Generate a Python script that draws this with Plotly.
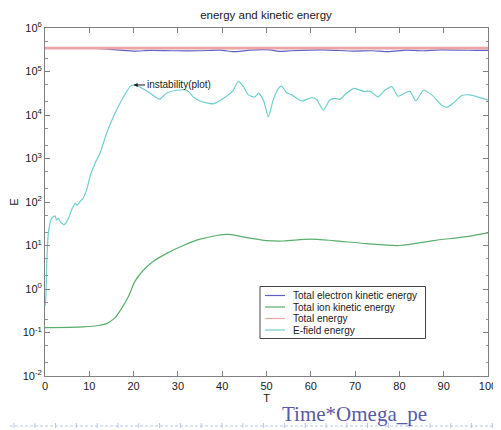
import plotly.graph_objects as go

# ---------------- data ----------------
t_field = [0, 0.2, 0.4, 0.75, 1.5, 2.25, 2.6, 3.0, 3.5, 4.3, 5.3, 6.0, 6.8, 7.3, 7.9, 8.6, 9.4,
           10.2, 11.3, 12.4, 13.9, 15.8, 17.7, 19.2, 19.9, 21.4, 23.7, 25.8, 27.5, 29.7, 32.0,
           33.5, 35.0, 38.0, 40.2, 42.5, 43.6, 44.8, 45.9, 47.4, 48.2, 49.3, 50.4, 51.5, 52.7,
           53.4, 54.5, 55.7, 57.9, 60.2, 61.3, 62.8, 64.3, 65.5, 66.6, 68.1, 69.8, 71.9, 73.4,
           75.2, 76.7, 78.3, 79.7, 81.3, 82.4, 83.7, 85.4, 87.3, 89.5, 90.7, 92.2, 94.1, 95.9,
           98.2, 100]
e_field = [0.4, 0.7, 3.9, 19, 42, 48, 39, 42, 35, 30, 42, 66, 93, 85, 102, 122, 190,
           400, 780, 1300, 3800, 11000, 26000, 45000, 49000, 44000, 32000, 23000, 32000, 37000, 37000,
           26000, 21000, 18000, 24000, 37000, 59000, 45000, 29000, 26000, 32000, 22000, 9100, 22000, 41000,
           46000, 33000, 29000, 21000, 25000, 23000, 13000, 22000, 24000, 23000, 32000, 41000, 35000, 35000,
           26000, 37000, 45000, 27000, 32000, 35000, 21000, 37000, 29000, 17000, 15000, 19000, 28000, 29000,
           25000, 22000]

t_ion = [0, 8.6, 12.4, 13.9, 15.8, 17.3, 18.8, 20.3, 22.2, 24.4, 27.5, 31.2, 35.0, 38.8, 41.4,
         45.9, 50.0, 53.8, 59.8, 65.0, 72.6, 80.1, 87.7, 95.2, 100]
e_ion = [0.13, 0.135, 0.147, 0.16, 0.22, 0.36, 0.66, 1.5, 2.7, 4.3, 6.6, 10, 14, 17, 18,
         15, 13, 12.7, 14, 13, 11, 10, 13, 16, 19.5]

t_elec = [0, 10, 13.5, 17, 20.3, 23.7, 29, 35, 39.5, 42.5, 44, 46.3, 50.8, 52.7, 55.5, 62.8,
          69.6, 74, 77.5, 81.6, 85, 89.2, 98, 100]
e_elec = [3.45e5, 3.45e5, 3.3e5, 3.1e5, 2.95e5, 3.05e5, 3.0e5, 3.0e5, 3.1e5, 2.85e5, 2.9e5, 3.1e5,
          3.15e5, 2.9e5, 3.0e5, 3.15e5, 2.95e5, 3.0e5, 2.85e5, 3.1e5, 3.0e5, 3.15e5, 3.05e5, 3.05e5]

t_total = [0, 100]
e_total = [3.45e5, 3.45e5]

series_names = ["Total electron kinetic energy", "Total ion kinetic energy",
                "Total energy", "E-field energy"]
series_colors = ["#6060c8", "#5aae6c", "#eaa4a4", "#70cece"]
x_ticks = [0, 10, 20, 30, 40, 50, 60, 70, 80, 90, 100]
y_tick_exps = [-2, -1, 0, 1, 2, 3, 4, 5, 6]

# ---------------- layout helpers ----------------
# the page body has an 8px margin, so the figure is sized to the visible area
OFF = 8
W, H = 501 - OFF, 430 - OFF
ML, MT = 45 - OFF, 28 - OFF          # plot left/top in page px: 45, 28
MR, MB = W - (488 - OFF), H - (376 - OFF)   # plot right/bottom in page px: 488, 376
PW, PH = W - ML - MR, H - MT - MB


def px(x):
    """page pixel x -> paper x"""
    return (x - OFF - ML) / PW


def py(y):
    """page pixel y -> paper y"""
    return (H - MB - (y - OFF)) / PH


FONT = "Arial, Liberation Sans, sans-serif"
TXT = "#1a1a1a"

fig = go.Figure()
fig.add_trace(go.Scatter(x=t_field, y=e_field, mode="lines", name=series_names[3],
                         line=dict(color=series_colors[3], width=1.2, shape="spline", smoothing=0.6)))
fig.add_trace(go.Scatter(x=t_ion, y=e_ion, mode="lines", name=series_names[1],
                         line=dict(color=series_colors[1], width=1.2, shape="spline", smoothing=0.8)))
fig.add_trace(go.Scatter(x=t_elec, y=e_elec, mode="lines", name=series_names[0],
                         line=dict(color=series_colors[0], width=1.2, shape="spline", smoothing=0.6)))
fig.add_trace(go.Scatter(x=t_total, y=e_total, mode="lines", name=series_names[2],
                         line=dict(color=series_colors[2], width=2.6)))

axis_common = dict(showline=True, linecolor="#808080", linewidth=1, mirror="ticks",
                   ticks="inside", ticklen=5, tickcolor="#808080", showgrid=False,
                   zeroline=False, automargin=False,
                   tickfont=dict(family=FONT, size=11, color=TXT))

fig.update_layout(
    width=W, height=H,
    margin=dict(l=ML, r=MR, t=MT, b=MB, autoexpand=False),
    paper_bgcolor="white", plot_bgcolor="white",
    title=dict(text="energy and kinetic energy", x=(266 - OFF) / W, xanchor="center",
               y=1 - (15 - OFF) / H, yanchor="middle", xref="container", yref="container",
               font=dict(family=FONT, size=11.5, color=TXT)),
    xaxis=dict(range=[0, 100], tickvals=x_ticks,
               title=dict(text="T", standoff=0, font=dict(family=FONT, size=11, color=TXT)),
               **axis_common),
    yaxis=dict(type="log", range=[-2, 6],
               tickvals=[10 ** e for e in y_tick_exps],
               ticktext=["10<sup>%d</sup>" % e for e in y_tick_exps],
               title=dict(text="E", standoff=8, font=dict(family=FONT, size=11, color=TXT)),
               minor=dict(ticks="inside", ticklen=2.5, tickcolor="#909090", showgrid=False),
               **axis_common),
    showlegend=False,
)

fig.add_annotation(x=20, y=4.69, xref="x", yref="y", text="instability(plot)",
                   showarrow=True, arrowhead=2, arrowsize=0.8, arrowwidth=1, arrowcolor=TXT,
                   ax=45, ay=0, font=dict(family=FONT, size=10, color=TXT))

# ---------------- legend box (compact, as in the reference) ----------------
fig.add_shape(type="rect", xref="paper", yref="paper",
              x0=px(260), x1=px(425.5), y0=py(338.5), y1=py(286.5),
              line=dict(color="#444", width=1), fillcolor="white", layer="above")
row_y = [295.5, 307, 318.5, 330]
for name, col, ry in zip(series_names, series_colors, row_y):
    fig.add_shape(type="line", xref="paper", yref="paper",
                  x0=px(265), x1=px(285), y0=py(ry), y1=py(ry),
                  line=dict(color=col, width=1.2), layer="above")
    fig.add_annotation(x=px(291), y=py(ry), xref="paper", yref="paper", text=name,
                       showarrow=False, xanchor="left", yanchor="middle",
                       font=dict(family=FONT, size=10, color=TXT))

# ---------------- slide footer ----------------
fig.add_annotation(x=px(354), y=py(414), xref="paper", yref="paper", text="Time*Omega_pe",
                   showarrow=False, xanchor="center", yanchor="middle",
                   font=dict(family="Liberation Serif, Times New Roman, serif", size=21, color="#5a5aa6"))
fig.add_shape(type="line", xref="paper", yref="paper", x0=px(0), x1=px(501), y0=py(426), y1=py(426),
              line=dict(color="#b8c8ec", width=1, dash="3px,2px"))
k = 0
while 14 + 20.8 * k < 501:
    xx = 14 + 20.8 * k
    fig.add_shape(type="line", xref="paper", yref="paper", x0=px(xx), x1=px(xx),
                  y0=py(428), y1=py(423), line=dict(color="#b8c8ec", width=1))
    k += 1

fig.write_html("out.html", config={"displayModeBar": False})
